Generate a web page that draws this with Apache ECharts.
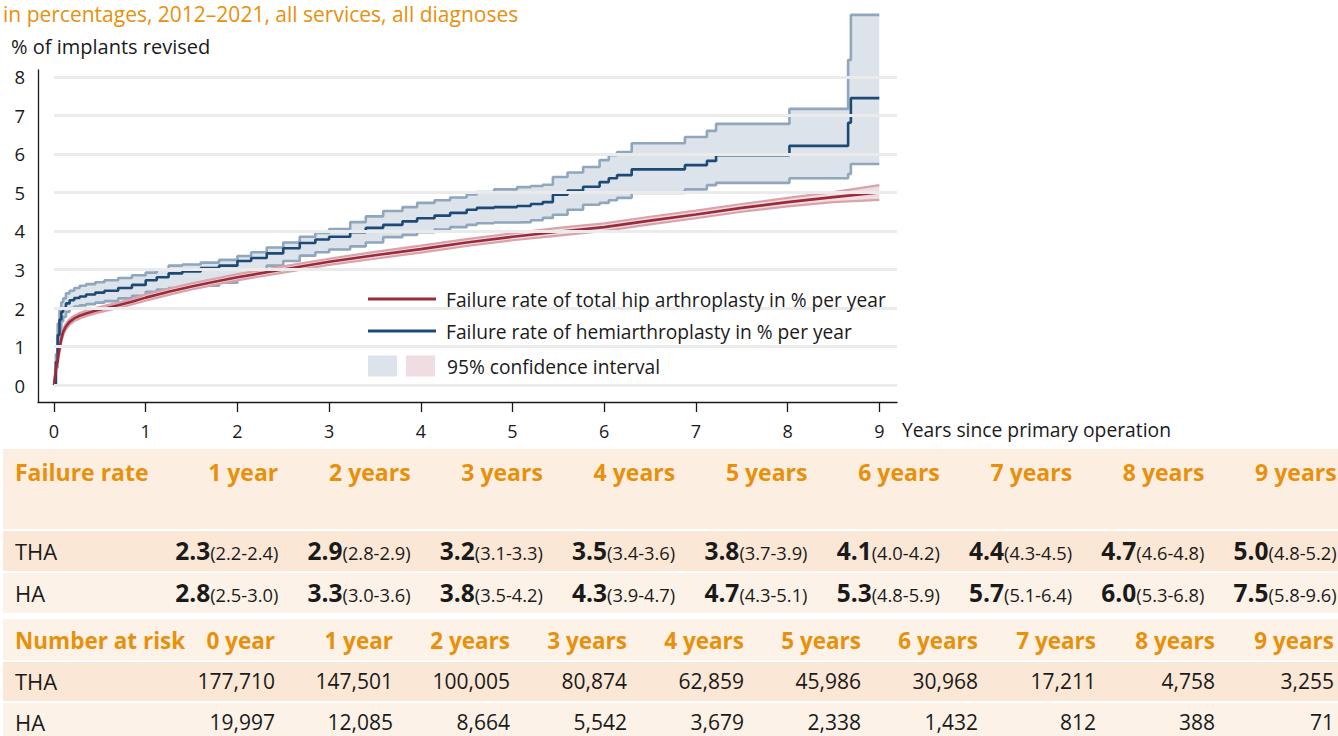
<!DOCTYPE html>
<html>
<head>
<meta charset="utf-8">
<script src="https://cdn.jsdelivr.net/npm/echarts@6/dist/echarts.min.js"></script>
<style>
  html, body { margin: 0; padding: 0; background: #fff; }
  body { width: 1338px; height: 736px; position: relative; overflow: hidden; font-family: 'Open Sans', sans-serif; color: #1a1a1a; }
  #chart { position: absolute; left: 0; top: 0; width: 1338px; height: 447px; }
  .row { position: absolute; left: 3px; width: 1335px; display: flex; white-space: nowrap; }
  .cell { text-align: right; flex: none; }
  .lab { text-align: left; padding-left: 12px; box-sizing: border-box; flex: none; }
  .hdr { color: #e8900c; font-weight: 700; font-size: 23px; }
  .hdr2 { color: #e8900c; font-weight: 700; font-size: 22.5px; }
  .val { font-size: 22px; }
  .b { font-weight: 700; font-size: 24.5px; }
  .ci { font-size: 18.3px; }
  .num { font-size: 21px; }
</style>
</head>
<body>
<div id="chart"></div>
<div id="table"></div>
<script>
// ---------- data ----------
const xTicks = [0, 1, 2, 3, 4, 5, 6, 7, 8, 9];
const yTicks = [0, 1, 2, 3, 4, 5, 6, 7, 8];

// Hemiarthroplasty (HA) Kaplan-Meier failure curve, step function (years, %)
const haTime = [0, 0.02, 0.04, 0.06, 0.08, 0.1, 0.13, 0.17, 0.22, 0.28, 0.35, 0.45, 0.55, 0.7, 0.85, 1.0,
  1.12, 1.25, 1.4, 1.6, 1.8, 2.0, 2.15, 2.32, 2.5, 2.68, 2.85, 3.0, 3.23, 3.4, 3.59, 3.8, 3.96, 4.15,
  4.32, 4.5, 4.61, 4.8, 5.05, 5.2, 5.33, 5.44, 5.6, 5.77, 5.95, 6.05, 6.14, 6.3, 6.88, 7.12, 7.22,
  8.02, 8.66, 8.69, 9.0];
const haMid = [0, 0.6, 1.3, 1.7, 1.9, 2.0, 2.12, 2.2, 2.26, 2.3, 2.35, 2.4, 2.45, 2.52, 2.6, 2.72,
  2.8, 2.9, 2.95, 3.04, 3.1, 3.22, 3.3, 3.42, 3.55, 3.69, 3.78, 3.85, 3.97, 4.08, 4.16, 4.25, 4.33, 4.4,
  4.47, 4.55, 4.6, 4.62, 4.65, 4.7, 4.75, 4.94, 5.05, 5.15, 5.27, 5.37, 5.45, 5.6, 5.71, 5.82, 5.97,
  6.21, 6.81, 7.45, 7.45];
const haUpper = [0, 0.8, 1.6, 2.0, 2.15, 2.25, 2.38, 2.45, 2.52, 2.58, 2.62, 2.67, 2.72, 2.78, 2.85, 2.92,
  3.0, 3.1, 3.13, 3.18, 3.25, 3.35, 3.45, 3.57, 3.7, 3.85, 3.95, 4.05, 4.23, 4.38, 4.52, 4.62, 4.73, 4.8,
  4.87, 4.95, 5.01, 5.08, 5.14, 5.17, 5.2, 5.4, 5.52, 5.66, 5.84, 5.97, 6.05, 6.28, 6.44, 6.6, 6.78,
  7.17, 8.44, 9.61, 9.61];
const haLower = [0, 0.45, 1.0, 1.4, 1.65, 1.77, 1.9, 2.0, 2.04, 2.07, 2.1, 2.14, 2.18, 2.25, 2.32, 2.42,
  2.48, 2.52, 2.54, 2.58, 2.66, 2.8, 2.95, 3.1, 3.22, 3.36, 3.45, 3.52, 3.6, 3.7, 3.84, 3.9, 3.97, 4.04,
  4.1, 4.16, 4.2, 4.22, 4.23, 4.28, 4.34, 4.42, 4.55, 4.68, 4.73, 4.8, 4.86, 4.99, 5.08, 5.19, 5.25,
  5.37, 5.48, 5.74, 5.74];

// Total hip arthroplasty (THA) failure curve (years, %)
const thaTime = [0, 0.02, 0.04, 0.06, 0.08, 0.1, 0.13, 0.17, 0.22, 0.28, 0.35, 0.45, 0.55, 0.7, 0.85, 1.0,
  1.25, 1.5, 1.75, 2.0, 2.5, 3.0, 3.5, 4.0, 4.5, 5.0, 5.5, 6.0, 6.5, 7.0, 7.5, 8.0, 8.5, 9.0];
const thaMid = [0, 0.4, 0.65, 0.95, 1.2, 1.38, 1.52, 1.64, 1.73, 1.8, 1.86, 1.93, 1.99, 2.07, 2.16, 2.27,
  2.42, 2.56, 2.68, 2.8, 3.0, 3.2, 3.37, 3.53, 3.7, 3.85, 3.98, 4.1, 4.27, 4.43, 4.6, 4.75, 4.88, 5.0];
const thaUpper = [0, 0.5, 0.75, 1.05, 1.28, 1.45, 1.6, 1.71, 1.8, 1.87, 1.93, 2.0, 2.06, 2.14, 2.23, 2.35,
  2.5, 2.64, 2.76, 2.88, 3.08, 3.28, 3.46, 3.62, 3.79, 3.94, 4.08, 4.2, 4.37, 4.53, 4.7, 4.86, 5.01, 5.19];
const thaLower = [0, 0.3, 0.55, 0.85, 1.12, 1.3, 1.44, 1.57, 1.66, 1.73, 1.79, 1.86, 1.92, 2.0, 2.09, 2.19,
  2.34, 2.48, 2.6, 2.72, 2.92, 3.12, 3.28, 3.44, 3.61, 3.76, 3.88, 4.0, 4.17, 4.33, 4.5, 4.64, 4.75, 4.81];

// Table: failure rate
const rateYears = ['1 year', '2 years', '3 years', '4 years', '5 years', '6 years', '7 years', '8 years', '9 years'];
const thaRate = [2.3, 2.9, 3.2, 3.5, 3.8, 4.1, 4.4, 4.7, 5.0];
const thaRateLow = [2.2, 2.8, 3.1, 3.4, 3.7, 4.0, 4.3, 4.6, 4.8];
const thaRateHigh = [2.4, 2.9, 3.3, 3.6, 3.9, 4.2, 4.5, 4.8, 5.2];
const haRate = [2.8, 3.3, 3.8, 4.3, 4.7, 5.3, 5.7, 6.0, 7.5];
const haRateLow = [2.5, 3.0, 3.5, 3.9, 4.3, 4.8, 5.1, 5.3, 5.8];
const haRateHigh = [3.0, 3.6, 4.2, 4.7, 5.1, 5.9, 6.4, 6.8, 9.6];

// Table: number at risk
const riskYears = ['0 year', '1 year', '2 years', '3 years', '4 years', '5 years', '6 years', '7 years', '8 years', '9 years'];
const thaRisk = [177710, 147501, 100005, 80874, 62859, 45986, 30968, 17211, 4758, 3255];
const haRisk = [19997, 12085, 8664, 5542, 3679, 2338, 1432, 812, 388, 71];

const nameTHA = 'Failure rate of total hip arthroplasty in % per year';
const nameHA = 'Failure rate of hemiarthroplasty in % per year';

// ---------- chart ----------
const FONT = "'Open Sans', sans-serif";
const TXT = '#1a1a1a';
const X_MIN = -0.1745, X_MAX = 9.193, Y_MIN = -0.44, Y_MAX = 8.18;

const pairs = (t, v) => t.map((x, i) => [x, v[i]]);

const C = {
  haLine: '#1c4a75', haEdge: '#8fa6bc', haFill: '#dde3ea',
  thaLine: '#9c2a3a', thaEdge: '#d8a3ab', thaFill: '#f0dde1'
};

// band polygon built in data space, converted by the cartesian scales
function bandRenderer(t, up, lo, stepped, fill) {
  return function (params, api) {
    const top = [], bot = [];
    for (let i = 0; i < t.length; i++) {
      top.push(api.coord([t[i], up[i]]));
      if (stepped && i < t.length - 1) top.push(api.coord([t[i + 1], up[i]]));
    }
    for (let i = t.length - 1; i >= 0; i--) {
      if (stepped && i < t.length - 1) bot.push(api.coord([t[i + 1], lo[i]]));
      bot.push(api.coord([t[i], lo[i]]));
    }
    return { type: 'polygon', shape: { points: top.concat(bot) }, style: { fill: fill, stroke: null } };
  };
}

const chart = echarts.init(document.getElementById('chart'), null, { renderer: 'svg' });

const option = {
  animation: false,
  title: [
    { text: 'in percentages, 2012–2021, all services, all diagnoses', left: 3, top: 3, padding: 0,
      textStyle: { color: '#e8900c', fontSize: 21, fontWeight: 'normal', fontFamily: FONT } },
    { text: '% of implants revised', left: 11, top: 36, padding: 0,
      textStyle: { color: TXT, fontSize: 20, fontWeight: 'normal', fontFamily: FONT } }
  ],
  grid: { left: 38, right: 441, top: 70, bottom: 447 - 402, containLabel: false, outerBoundsMode: 'none' },
  xAxis: {
    type: 'value', min: X_MIN, max: X_MAX,
    axisLine: { show: true, onZero: false, lineStyle: { color: TXT, width: 1.3 } },
    axisTick: { show: true, customValues: xTicks, length: 10, lineStyle: { color: TXT, width: 1.3 } },
    axisLabel: { customValues: xTicks, margin: 20, fontSize: 18, color: TXT, fontFamily: FONT },
    splitLine: { show: false },
    name: 'Years since primary operation', nameLocation: 'end', nameGap: 5,
    nameTextStyle: { fontSize: 19.3, color: TXT, fontFamily: FONT, verticalAlign: 'top', padding: [18, 0, 0, 0] }
  },
  yAxis: {
    type: 'value', min: Y_MIN, max: Y_MAX,
    axisLine: { show: true, onZero: false, lineStyle: { color: TXT, width: 1.3 } },
    axisTick: { show: false },
    axisLabel: { customValues: yTicks, margin: 13, fontSize: 18.5, color: TXT, fontFamily: FONT },
    splitLine: { show: false }
  },
  graphic: [
    { type: 'rect', z: 1, silent: true, shape: { x: 332, y: 263, width: 566, height: 133 }, style: { fill: '#fff' } }
  ],
  legend: [
    {
      data: [
        { name: nameTHA, itemStyle: { color: C.thaLine, borderWidth: 0 } },
        { name: nameHA, itemStyle: { color: C.haLine, borderWidth: 0 } }
      ],
      orient: 'vertical', left: 368, top: 288, icon: 'rect',
      itemWidth: 68, itemHeight: 3, itemGap: 10, padding: 0,
      selectedMode: false, z: 6,
      textStyle: { fontSize: 19.2, color: TXT, fontFamily: FONT, lineHeight: 22, padding: [0, 0, 0, 5] }
    },
    {
      data: [
        { name: 'CI HA', itemStyle: { color: C.haFill, borderWidth: 0 }, textStyle: { padding: 0 } },
        { name: 'CI THA', itemStyle: { color: C.thaFill, borderWidth: 0 }, textStyle: { padding: [0, 0, 0, 7] } }
      ],
      formatter: (n) => (n === 'CI HA' ? '' : '95% confidence interval'),
      orient: 'horizontal', left: 368, top: 355, icon: 'rect',
      itemWidth: 29, itemHeight: 21, itemGap: 4, padding: 0,
      selectedMode: false, z: 6,
      textStyle: { fontSize: 19.2, color: TXT, fontFamily: FONT, lineHeight: 22 }
    }
  ],
  series: [
    {
      type: 'line', name: 'grid', data: [], z: 0, silent: true, symbol: 'none',
      markLine: {
        silent: true, symbol: ['none', 'none'], label: { show: false }, animation: false,
        lineStyle: { color: '#ebebeb', width: 3, type: 'solid' },
        emphasis: { disabled: true },
        data: yTicks.map(v => [{ coord: [0, v] }, { coord: [X_MAX, v] }])
      }
    },
    // confidence bands (fills)
    { type: 'custom', name: 'CI HA', coordinateSystem: 'cartesian2d', data: [[0, 0]], clip: false, z: 2, silent: true,
      itemStyle: { color: C.haFill }, renderItem: bandRenderer(haTime, haUpper, haLower, true, C.haFill) },
    // HA band edges
    { type: 'line', name: 'HA upper edge', step: 'end', data: pairs(haTime, haUpper),
      symbol: 'none', lineStyle: { color: C.haEdge, width: 2.6 }, clip: false, z: 2, silent: true },
    { type: 'line', name: 'HA lower edge', step: 'end', data: pairs(haTime, haLower),
      symbol: 'none', lineStyle: { color: C.haEdge, width: 2.6 }, clip: false, z: 2, silent: true },
    { type: 'custom', name: 'CI THA', coordinateSystem: 'cartesian2d', data: [[0, 0]], clip: false, z: 3, silent: true,
      itemStyle: { color: C.thaFill }, renderItem: bandRenderer(thaTime, thaUpper, thaLower, false, C.thaFill) },
    { type: 'line', name: 'THA upper edge', data: pairs(thaTime, thaUpper),
      symbol: 'none', lineStyle: { color: C.thaEdge, width: 2.2 }, clip: false, z: 3, silent: true },
    { type: 'line', name: 'THA lower edge', data: pairs(thaTime, thaLower),
      symbol: 'none', lineStyle: { color: C.thaEdge, width: 2.2 }, clip: false, z: 3, silent: true },
    // central lines
    { type: 'line', name: nameHA, step: 'end', data: pairs(haTime, haMid),
      symbol: 'none', lineStyle: { color: C.haLine, width: 2.6 }, itemStyle: { color: C.haLine },
      clip: false, z: 4, silent: true },
    { type: 'line', name: nameTHA, data: pairs(thaTime, thaMid),
      symbol: 'none', lineStyle: { color: C.thaLine, width: 2.6 }, itemStyle: { color: C.thaLine },
      clip: false, z: 4, silent: true }
  ]
};
chart.setOption(option);

// ---------- table ----------
const tbl = document.getElementById('table');
function row(top, height, bg, lh, firstW, widths, labelHtml, labelCls, cells) {
  const r = document.createElement('div');
  r.className = 'row';
  r.style.top = top + 'px';
  r.style.height = height + 'px';
  r.style.background = bg;
  r.style.lineHeight = lh + 'px';
  let html = `<div class="lab ${labelCls}" style="width:${firstW}px">${labelHtml}</div>`;
  cells.forEach((c, i) => {
    html += `<div class="cell" style="width:${widths[i]}px">${c.html}</div>`;
  });
  r.innerHTML = html;
  tbl.appendChild(r);
}
const fmt1 = v => v.toFixed(1);
const rateW = rateYears.map(() => 132.3);
const riskW = [118, 118, 117, 117, 117, 117, 117, 118, 119, 119];
const BG_H = '#fcefe2', BG_D = '#fbe7d5', BG_L = '#fdf2e7';

row(449, 80, BG_H, 46, 143, rateW, 'Failure rate', 'hdr',
  rateYears.map(y => ({ html: `<span class="hdr">${y}</span>` })));
row(531, 40, BG_D, 40, 143, rateW, 'THA', 'val',
  thaRate.map((v, i) => ({ html: `<span class="b">${fmt1(v)}</span><span class="ci">(${fmt1(thaRateLow[i])}-${fmt1(thaRateHigh[i])})</span>` })));
row(573, 40, BG_L, 40, 143, rateW, 'HA', 'val',
  haRate.map((v, i) => ({ html: `<span class="b">${fmt1(v)}</span><span class="ci">(${fmt1(haRateLow[i])}-${fmt1(haRateHigh[i])})</span>` })));
row(619, 41, BG_L, 44, 154, riskW, 'Number at risk', 'hdr2',
  riskYears.map(y => ({ html: `<span class="hdr2">${y}</span>` })));
row(662, 39, BG_D, 38, 154, riskW, 'THA', 'val',
  thaRisk.map(v => ({ html: `<span class="num">${v.toLocaleString('en-US')}</span>` })));
row(703, 33, BG_L, 38, 154, riskW, 'HA', 'val',
  haRisk.map(v => ({ html: `<span class="num">${v.toLocaleString('en-US')}</span>` })));
</script>
</body>
</html>
